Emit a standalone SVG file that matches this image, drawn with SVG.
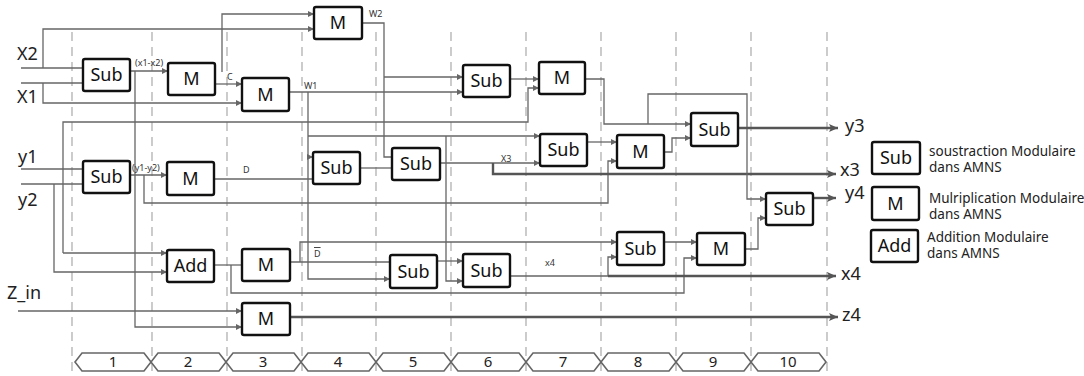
<svg xmlns="http://www.w3.org/2000/svg" width="1084" height="376" viewBox="0 0 1084 376">
<style>
.bx rect{fill:#fff;stroke:#111;stroke-width:2.4}
.bx text{font-family:"Noto Sans","DejaVu Sans",sans-serif;font-size:18px;text-anchor:middle;fill:#111}
.w{fill:none;stroke:#666;stroke-width:1.3}
.t{fill:none;stroke:#555;stroke-width:2.4}
.d{stroke:#aaa;stroke-width:1.2;stroke-dasharray:9 6}
.lb{font-family:"Noto Sans","DejaVu Sans",sans-serif;font-size:9px;fill:#333}
.io{font-family:"Noto Sans","DejaVu Sans",sans-serif;font-size:18px;fill:#222}
.lg{font-family:"Noto Sans","DejaVu Sans",sans-serif;font-size:13.5px;fill:#222}
.ch{fill:#fff;stroke:#666;stroke-width:1.6}
.cn{font-family:"Noto Sans","DejaVu Sans",sans-serif;font-size:15px;fill:#222;text-anchor:middle}
</style>
<defs>
<marker id="a" markerUnits="userSpaceOnUse" markerWidth="6" markerHeight="6" refX="6" refY="3" orient="auto"><path d="M0,0 L6,3 L0,6 z" fill="#666"/></marker>
<marker id="A" markerUnits="userSpaceOnUse" markerWidth="10" markerHeight="10" refX="9" refY="5" orient="auto"><path d="M0,1 L9,5 L0,9 L2,5 z" fill="#555"/></marker>
</defs>
<rect width="1084" height="376" fill="#fff"/>
<g id="stages">
<line class="d" x1="72" y1="32" x2="72" y2="376"/>
<line class="d" x1="152" y1="32" x2="152" y2="376"/>
<line class="d" x1="227" y1="32" x2="227" y2="376"/>
<line class="d" x1="302" y1="32" x2="302" y2="376"/>
<line class="d" x1="376" y1="32" x2="376" y2="376"/>
<line class="d" x1="451" y1="32" x2="451" y2="376"/>
<line class="d" x1="526" y1="32" x2="526" y2="376"/>
<line class="d" x1="601" y1="32" x2="601" y2="376"/>
<line class="d" x1="676" y1="32" x2="676" y2="376"/>
<line class="d" x1="751" y1="32" x2="751" y2="376"/>
<line class="d" x1="827" y1="32" x2="827" y2="376"/>
<path class="ch" d="M75,362 L82,353 H144 L151,362 L144,371 H82 Z"/>
<path class="ch" d="M151,362 L158,353 H219 L226,362 L219,371 H158 Z"/>
<path class="ch" d="M226,362 L233,353 H294 L301,362 L294,371 H233 Z"/>
<path class="ch" d="M301,362 L308,353 H369 L376,362 L369,371 H308 Z"/>
<path class="ch" d="M376,362 L383,353 H444 L451,362 L444,371 H383 Z"/>
<path class="ch" d="M451,362 L458,353 H519 L526,362 L519,371 H458 Z"/>
<path class="ch" d="M526,362 L533,353 H594 L601,362 L594,371 H533 Z"/>
<path class="ch" d="M601,362 L608,353 H669 L676,362 L669,371 H608 Z"/>
<path class="ch" d="M676,362 L683,353 H744 L751,362 L744,371 H683 Z"/>
<path class="ch" d="M751,362 L758,353 H819 L826,362 L819,371 H758 Z"/>
<text class="cn" x="113" y="367">1</text>
<text class="cn" x="188" y="367">2</text>
<text class="cn" x="263" y="367">3</text>
<text class="cn" x="338" y="367">4</text>
<text class="cn" x="413" y="367">5</text>
<text class="cn" x="488" y="367">6</text>
<text class="cn" x="563" y="367">7</text>
<text class="cn" x="638" y="367">8</text>
<text class="cn" x="713" y="367">9</text>
<text class="cn" x="788" y="367">10</text>
</g>
<g id="connectors">
<path class="w" d="M21,68 H83"/>
<path class="w" d="M43,68 V29 H314" marker-end="url(#a)"/>
<path class="w" d="M21,83 H83"/>
<path class="w" d="M43,83 V103 H242" marker-end="url(#a)"/>
<path class="w" d="M130,71 H168" marker-end="url(#a)"/>
<path class="w" d="M135,71 V327 H242" marker-end="url(#a)"/>
<path class="w" d="M215,84 H242" marker-end="url(#a)"/>
<path class="w" d="M222,72 V14 H314" marker-end="url(#a)"/>
<path class="w" d="M289,92 H463" marker-end="url(#a)"/>
<path class="w" d="M308,92 V279 H390" marker-end="url(#a)"/>
<path class="w" d="M308,157 H313" marker-end="url(#a)"/>
<path class="w" d="M308,136 H540" marker-end="url(#a)"/>
<path class="w" d="M446,136 V281 H463" marker-end="url(#a)"/>
<path class="w" d="M362,23 H384 V157 H392"/>
<path class="w" d="M384,77 H463" marker-end="url(#a)"/>
<path class="w" d="M510,79 H539" marker-end="url(#a)"/>
<path class="w" d="M21,169 H83"/>
<path class="w" d="M63,253 V122 H528 V88 H539" marker-end="url(#a)"/>
<path class="w" d="M63,253 H167" marker-end="url(#a)"/>
<path class="w" d="M21,184 H83"/>
<path class="w" d="M54,184 V272 H167" marker-end="url(#a)"/>
<path class="w" d="M130,175 H167" marker-end="url(#a)"/>
<path class="w" d="M144,175 V203 H608 V161 H617" marker-end="url(#a)"/>
<path class="w" d="M214,179 H313"/>
<path class="w" d="M360,168 H392"/>
<path class="w" d="M440,163 H540" marker-end="url(#a)"/>
<path class="t" d="M493,163 V174 H836" marker-end="url(#A)"/>
<path class="w" d="M587,142 H617" marker-end="url(#a)"/>
<path class="w" d="M585,79 H604 V124 H691" marker-end="url(#a)"/>
<path class="w" d="M648,124 V94 H747 V199 H766" marker-end="url(#a)"/>
<path class="w" d="M664,152 H672 V138 H691" marker-end="url(#a)"/>
<path class="t" d="M738,128 H838" marker-end="url(#A)"/>
<path class="w" d="M214,265 H242"/>
<path class="w" d="M231,265 V293 H684 V258 H697" marker-end="url(#a)"/>
<path class="w" d="M290,262 H390"/>
<path class="w" d="M300,262 V242 H617" marker-end="url(#a)"/>
<path class="w" d="M437,261 H463" marker-end="url(#a)"/>
<path class="w" d="M510,276 H608 V257 H617" marker-end="url(#a)"/>
<path class="t" d="M608,276 H836" marker-end="url(#A)"/>
<path class="w" d="M664,242 H697" marker-end="url(#a)"/>
<path class="w" d="M745,249 H758 V218 H766" marker-end="url(#a)"/>
<path class="t" d="M813,198 H836" marker-end="url(#A)"/>
<path class="w" d="M18,311 H242" marker-end="url(#a)"/>
<path class="t" d="M290,317 H838" marker-end="url(#A)"/>
</g>
<g id="labels">
<text class="lb" x="135" y="66">(x1-x2)</text>
<text class="lb" x="227" y="80">C</text>
<text class="lb" x="304" y="89">W1</text>
<text class="lb" x="369" y="17">W2</text>
<text class="lb" x="132" y="171">(y1-y2)</text>
<text class="lb" x="243" y="173">D</text>
<text class="lb" x="501" y="162">X3</text>
<text class="lb" x="314" y="257" text-decoration="overline">D</text>
<text class="lb" x="545" y="266">x4</text>
<text class="io" x="17" y="60">X2</text>
<text class="io" x="17" y="103">X1</text>
<text class="io" x="18" y="163">y1</text>
<text class="io" x="18" y="206">y2</text>
<text class="io" x="7" y="299">Z_in</text>
<text class="io" x="845" y="132">y3</text>
<text class="io" x="840" y="176">x3</text>
<text class="io" x="845" y="199">y4</text>
<text class="io" x="841" y="280">x4</text>
<text class="io" x="842" y="321">z4</text>
</g>
<g id="n_sub1" class="bx"><rect x="83" y="59" width="47" height="32" rx="2"/><text x="106.5" y="81">Sub</text></g>
<g id="n_m1" class="bx"><rect x="168" y="63" width="47" height="32" rx="2"/><text x="191.5" y="85">M</text></g>
<g id="n_m2" class="bx"><rect x="242" y="78" width="47" height="33" rx="2"/><text x="265.5" y="101">M</text></g>
<g id="n_m3" class="bx"><rect x="314" y="7" width="48" height="32" rx="2"/><text x="338" y="29">M</text></g>
<g id="n_sub6a" class="bx"><rect x="463" y="65" width="47" height="32" rx="2"/><text x="486.5" y="87">Sub</text></g>
<g id="n_m7" class="bx"><rect x="539" y="62" width="46" height="32" rx="2"/><text x="562" y="84">M</text></g>
<g id="n_sub9" class="bx"><rect x="691" y="113" width="47" height="33" rx="2"/><text x="714.5" y="136">Sub</text></g>
<g id="n_m8" class="bx"><rect x="617" y="135" width="47" height="33" rx="2"/><text x="640.5" y="158">M</text></g>
<g id="n_sub7" class="bx"><rect x="540" y="134" width="47" height="32" rx="2"/><text x="563.5" y="156">Sub</text></g>
<g id="n_sub4" class="bx"><rect x="313" y="152" width="47" height="32" rx="2"/><text x="336.5" y="174">Sub</text></g>
<g id="n_sub5" class="bx"><rect x="392" y="148" width="48" height="32" rx="2"/><text x="416" y="170">Sub</text></g>
<g id="n_sub2" class="bx"><rect x="83" y="161" width="47" height="32" rx="2"/><text x="106.5" y="183">Sub</text></g>
<g id="n_md" class="bx"><rect x="167" y="162" width="47" height="33" rx="2"/><text x="190.5" y="185">M</text></g>
<g id="n_add" class="bx"><rect x="167" y="250" width="47" height="32" rx="2"/><text x="190.5" y="272">Add</text></g>
<g id="n_m3b" class="bx"><rect x="242" y="249" width="48" height="32" rx="2"/><text x="266" y="271">M</text></g>
<g id="n_mz" class="bx"><rect x="242" y="303" width="48" height="32" rx="2"/><text x="266" y="325">M</text></g>
<g id="n_sub5b" class="bx"><rect x="390" y="255" width="47" height="33" rx="2"/><text x="413.5" y="278">Sub</text></g>
<g id="n_sub6b" class="bx"><rect x="463" y="254" width="47" height="33" rx="2"/><text x="486.5" y="277">Sub</text></g>
<g id="n_sub8" class="bx"><rect x="617" y="232" width="47" height="33" rx="2"/><text x="640.5" y="255">Sub</text></g>
<g id="n_m9" class="bx"><rect x="697" y="233" width="48" height="32" rx="2"/><text x="721" y="255">M</text></g>
<g id="n_sub10" class="bx"><rect x="766" y="193" width="47" height="32" rx="2"/><text x="789.5" y="215">Sub</text></g>
<g id="legend_sub" class="bx"><rect x="872" y="142" width="48" height="32" rx="2"/><text x="896" y="164">Sub</text></g>
<g id="legend_m" class="bx"><rect x="872" y="187" width="47" height="33" rx="2"/><text x="895.5" y="210">M</text></g>
<g id="legend_add" class="bx"><rect x="871" y="230" width="47" height="32" rx="2"/><text x="894.5" y="252">Add</text></g>
<g id="legend_text">
<text class="lg" x="929" y="156">soustraction Modulaire</text>
<text class="lg" x="929" y="172">dans AMNS</text>
<text class="lg" x="929" y="203">Mulriplication Modulaire</text>
<text class="lg" x="929" y="219">dans AMNS</text>
<text class="lg" x="927" y="242">Addition Modulaire</text>
<text class="lg" x="927" y="258">dans AMNS</text>
</g>
</svg>
